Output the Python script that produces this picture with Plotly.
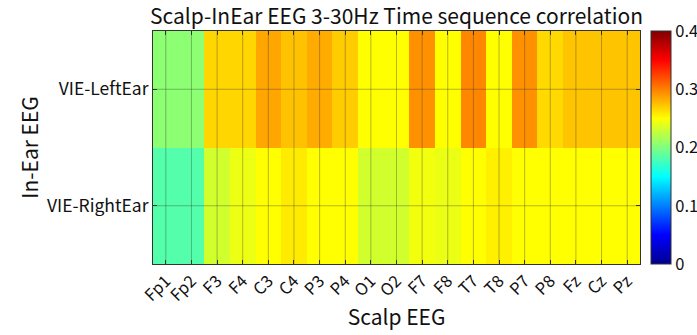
import plotly.graph_objects as go

scalp_channels = ["Fp1", "Fp2", "F3", "F4", "C3", "C4", "P3", "P4", "O1", "O2",
                  "F7", "F8", "T7", "T8", "P7", "P8", "Fz", "Cz", "Pz"]
inear_channels = ["VIE-LeftEar", "VIE-RightEar"]

left_ear = [0.205, 0.205, 0.266, 0.266, 0.285, 0.274, 0.283, 0.27, 0.25, 0.25,
            0.293, 0.25, 0.297, 0.25, 0.293, 0.265, 0.273, 0.273, 0.273]
right_ear = [0.183, 0.183, 0.232, 0.243, 0.25, 0.258, 0.25, 0.25, 0.232, 0.232,
             0.245, 0.242, 0.25, 0.256, 0.25, 0.25, 0.25, 0.25, 0.25]

FONT = "Noto Sans CJK JP"

jet = [[0.0, "rgb(0,0,143)"], [0.125, "rgb(0,0,255)"], [0.375, "rgb(0,255,255)"],
       [0.625, "rgb(255,255,0)"], [0.875, "rgb(255,0,0)"], [1.0, "rgb(128,0,0)"]]

fig = go.Figure(go.Heatmap(
    z=[left_ear, right_ear],
    x=scalp_channels,
    y=inear_channels,
    zmin=0, zmax=0.4,
    colorscale=jet,
    xgap=0, ygap=0,
    hoverinfo="skip",
    colorbar=dict(
        x=1.0226, xanchor="left", xref="paper",
        y=0, yanchor="bottom", len=1, lenmode="fraction",
        thickness=20, thicknessmode="pixels",
        xpad=0, ypad=0,
        outlinewidth=1, outlinecolor="#333",
        tickvals=[0, 0.1, 0.2, 0.3, 0.4],
        ticktext=["0", "0.1", "0.2", "0.3", "0.4"],
        ticks="", ticklen=0,
        tickfont=dict(family=FONT, size=16.5, color="#111"),
    ),
))

# grid lines drawn above the heatmap at each category
for c in scalp_channels:
    fig.add_shape(type="line", xref="x", yref="paper", x0=c, x1=c, y0=0, y1=1,
                  line=dict(color="rgba(50,50,50,0.35)", width=1), layer="above")
for r in inear_channels:
    fig.add_shape(type="line", xref="paper", yref="y", x0=0, x1=1, y0=r, y1=r,
                  line=dict(color="rgba(50,50,50,0.35)", width=1), layer="above")

fig.update_layout(
    width=697, height=335,
    margin=dict(l=153, r=57, t=31, b=71, pad=0, autoexpand=False),
    paper_bgcolor="white", plot_bgcolor="white",
    title=dict(text="Scalp-InEar EEG 3-30Hz Time sequence correlation",
               x=0.5, xref="paper", xanchor="center", y=1 - 17/335, yanchor="middle",
               font=dict(family=FONT, size=21, color="#111")),
    xaxis=dict(
        title=dict(text="Scalp EEG", font=dict(family=FONT, size=21, color="#111"), standoff=4),
        tickangle=-45, tickfont=dict(family=FONT, size=16.5, color="#111"),
        ticks="inside", ticklen=4, tickcolor="#333",
        showline=True, linecolor="#333", linewidth=1, mirror="ticks",
        showgrid=False, layer="above traces",
    ),
    yaxis=dict(
        title=dict(text="In-Ear EEG", font=dict(family=FONT, size=21, color="#111"), standoff=2),
        autorange="reversed",
        tickfont=dict(family=FONT, size=17.5, color="#111"),
        ticks="inside", ticklen=4, tickcolor="#333",
        showline=True, linecolor="#333", linewidth=1, mirror="ticks",
        showgrid=False, layer="above traces",
    ),
)

fig.write_html("out.html",
               config={"displayModeBar": False},
               post_script="document.body.style.margin='0';document.body.style.padding='0';")
